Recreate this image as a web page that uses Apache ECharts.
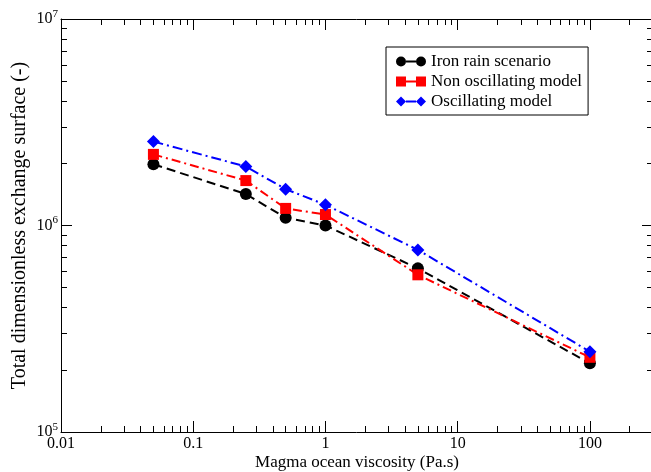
<!DOCTYPE html>
<html><head><meta charset="utf-8">
<script src="https://cdn.jsdelivr.net/npm/echarts@6/dist/echarts.min.js"></script>
<style>html,body{margin:0;padding:0;background:#fff;overflow:hidden}#c{width:651px;height:472px}</style>
</head><body><div id="c"></div>
<script>
// ---- data ----
const viscosity = [0.05, 0.25, 0.5, 1, 5, 100];
const ironRain = [1.98e6, 1.42e6, 1.09e6, 1.0e6, 6.2e5, 2.15e5];
const nonOscillating = [2.21e6, 1.65e6, 1.21e6, 1.13e6, 5.77e5, 2.30e5];
const oscillating = [2.55e6, 1.93e6, 1.50e6, 1.26e6, 7.62e5, 2.45e5];
const seriesNames = ['Iron rain scenario', 'Non oscillating model', 'Oscillating model'];
const xTickLabels = ['0.01', '0.1', '1', '10', '100'];
const yTickExponents = ['5', '6', '7'];
const xTitle = 'Magma ocean viscosity (Pa.s)';
const yTitle = 'Total dimensionless exchange surface (-)';

const FONT = '"Liberation Serif", "Times New Roman", serif';
const pairs = arr => viscosity.map((v, i) => [v, arr[i]]);
const exactPow = v => {
  const l = Math.log10(v), e = Math.round(l);
  return Math.abs(l - e) < 1e-6 ? e : null;
};

const chart = echarts.init(document.getElementById('c'), null, {renderer: 'canvas'});

const axisCommon = {
  type: 'log', logBase: 10,
  axisLine: {show: true, onZero: false, lineStyle: {color: '#000', width: 1}},
  axisTick: {show: true, inside: true, length: 11, lineStyle: {color: '#000', width: 1}},
  minorTick: {show: true, splitNumber: 9, length: 6, lineStyle: {color: '#000', width: 1}},
  splitLine: {show: false},
  minorSplitLine: {show: false}
};

const iconCircle = 'path://M0,5a5,5 0 1,0 10,0a5,5 0 1,0 -10,0zM20,5a5,5 0 1,0 10,0a5,5 0 1,0 -10,0zM10,4h10v2h-10z';
const iconSquare = 'path://M0,0h10v10h-10zM20,0h10v10h-10zM10,4h10v2h-10z';
const iconDiamond = 'path://M0,5l5,-5l5,5l-5,5zM20,5l5,-5l5,5l-5,5zM10,4h10v2h-10z';

const option = {
  backgroundColor: '#fff',
  animation: false,
  grid: {left: 61, top: 19, width: 592, height: 413, containLabel: false, outerBoundsMode: 'none'},
  legend: {
    left: 386, top: 47,
    orient: 'vertical',
    itemWidth: 30, itemHeight: 10, itemGap: 3,
    padding: [6, 6, 5, 10],
    borderColor: '#000', borderWidth: 1, borderRadius: 0,
    backgroundColor: '#fff',
    textStyle: {fontFamily: FONT, fontSize: 17, color: '#000'},
    data: [
      {name: seriesNames[0], icon: iconCircle},
      {name: seriesNames[1], icon: iconSquare},
      {name: seriesNames[2], icon: iconDiamond}
    ]
  },
  xAxis: [
    Object.assign({}, axisCommon, {
      position: 'bottom', min: 0.01, max: 300,
      name: xTitle, nameLocation: 'middle', nameGap: 22, nameMoveOverlap: false,
      nameTextStyle: {fontFamily: FONT, fontSize: 17, color: '#000', verticalAlign: 'top', lineHeight: 18},
      axisLabel: {
        show: true, margin: 4, fontFamily: FONT, fontSize: 16, color: '#000',
        showMinLabel: true, showMaxLabel: false,
        formatter: v => {
          const e = exactPow(v);
          return (e !== null && xTickLabels[e + 2] !== undefined) ? xTickLabels[e + 2] : '';
        }
      }
    }),
    Object.assign({}, axisCommon, {
      position: 'top', min: 0.01, max: 300, axisLabel: {show: false}
    })
  ],
  yAxis: [
    Object.assign({}, axisCommon, {
      position: 'left', min: 1e5, max: 1e7,
      name: yTitle, nameLocation: 'middle', nameGap: 31, nameRotate: 90, nameMoveOverlap: false,
      nameTextStyle: {fontFamily: FONT, fontSize: 20, color: '#000'},
      axisLabel: {
        show: true, margin: 3,
        formatter: v => {
          const e = exactPow(v);
          const s = e === null ? undefined : yTickExponents[e - 5];
          return s === undefined ? '' : '{b|10}{s|' + s + '}';
        },
        rich: {
          b: {fontFamily: FONT, fontSize: 16, color: '#000'},
          s: {fontFamily: FONT, fontSize: 11, color: '#000', padding: [0, 0, 10, 0]}
        }
      }
    }),
    Object.assign({}, axisCommon, {
      position: 'right', min: 1e5, max: 1e7, axisLabel: {show: false}
    })
  ],
  series: [
    {
      name: seriesNames[0], type: 'line', data: pairs(ironRain),
      xAxisIndex: 0, yAxisIndex: 0,
      symbol: 'circle', symbolSize: 12,
      itemStyle: {color: '#000'},
      lineStyle: {color: '#000', width: 2, type: [9, 5]}
    },
    {
      name: seriesNames[1], type: 'line', data: pairs(nonOscillating),
      xAxisIndex: 0, yAxisIndex: 0,
      symbol: 'rect', symbolSize: 11,
      itemStyle: {color: '#ff0000'},
      lineStyle: {color: '#ff0000', width: 2, type: [9, 4, 2, 4]}
    },
    {
      name: seriesNames[2], type: 'line', data: pairs(oscillating),
      xAxisIndex: 0, yAxisIndex: 0,
      symbol: 'diamond', symbolSize: 13,
      itemStyle: {color: '#0000ff'},
      lineStyle: {color: '#0000ff', width: 2, type: [10, 4, 2, 4]}
    }
  ]
};
chart.setOption(option);
</script>
</body></html>
